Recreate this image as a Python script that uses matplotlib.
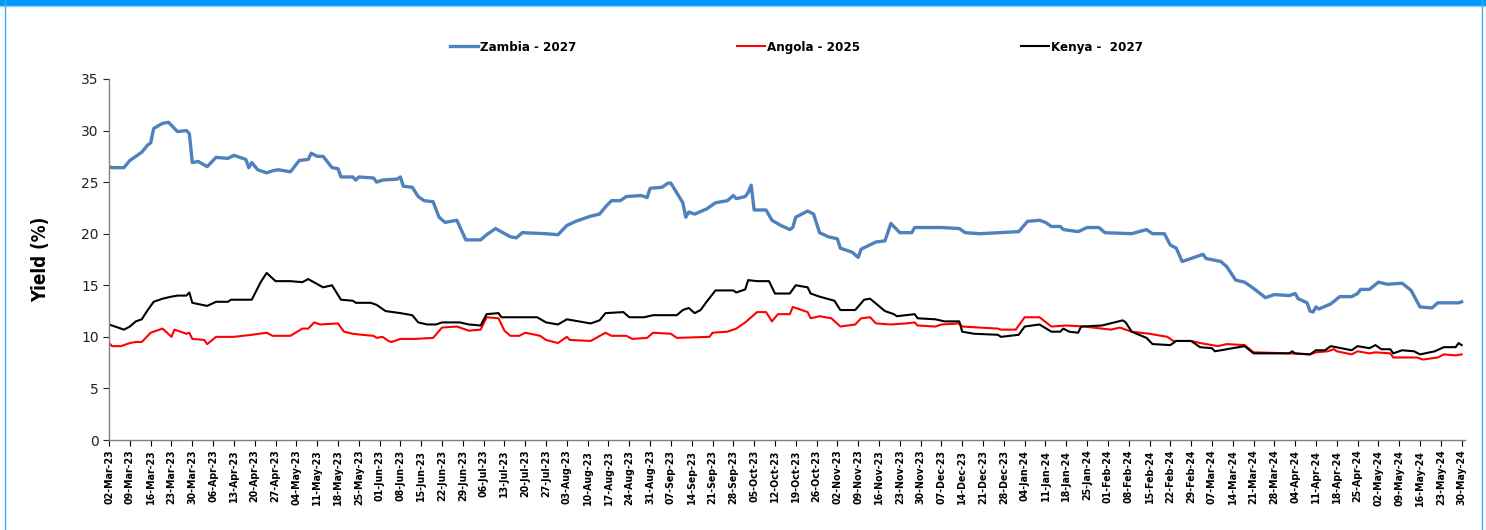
import numpy as np
import matplotlib
matplotlib.use("Agg")
import matplotlib.pyplot as plt
import matplotlib.dates as mdates
from matplotlib import font_manager
from matplotlib.patches import Rectangle
from matplotlib.lines import Line2D

start = np.datetime64("2023-03-02")

# day offsets from 02-Mar-23 and yields (%)
zambia_days = [0, 1, 5, 7, 11, 13, 14, 15, 18, 20, 23, 26, 27, 28, 30, 33, 36, 40, 42, 46,
               47, 48, 50, 53, 55, 57, 61, 64, 67, 68, 70, 72, 75, 77, 78, 82, 83, 84, 89, 90,
               92, 97, 98, 99, 102, 104, 106, 109, 111, 113, 117, 120, 125, 127, 130, 135, 137, 139, 147, 151,
               154, 157, 162, 165, 167, 169, 172, 174, 179, 181, 182, 186, 188, 189, 193, 194, 195, 197, 201, 204,
               208, 210, 211, 214, 215, 216, 217, 221, 223, 226, 229, 230, 231, 235, 237, 239, 242, 245, 246, 250,
               252, 253, 258, 261, 263, 266, 270, 271, 280, 286, 288, 293, 306, 309, 313, 315, 317, 320, 321, 326,
               329, 333, 335, 344, 349, 351, 355, 357, 359, 361, 368, 369, 374, 376, 379, 382, 385, 389, 392, 397,
               399, 400, 403, 404, 405, 406, 407, 411, 414, 418, 420, 421, 424, 427, 430, 435, 438, 441, 445, 447,
               454, 455]
zambia = [26.5, 26.4, 26.4, 27.1, 27.9, 28.6, 28.8, 30.2, 30.7, 30.8, 29.9, 30.0, 29.7, 26.9, 27.0, 26.5, 27.4, 27.3, 27.6, 27.2,
          26.4, 26.9, 26.2, 25.9, 26.1, 26.2, 26.0, 27.1, 27.2, 27.8, 27.5, 27.5, 26.4, 26.3, 25.5, 25.5, 25.2, 25.5, 25.4, 25.0,
          25.2, 25.3, 25.5, 24.6, 24.5, 23.6, 23.2, 23.1, 21.6, 21.1, 21.3, 19.4, 19.4, 19.9, 20.5, 19.7, 19.6, 20.1, 20.0, 19.9,
          20.8, 21.2, 21.7, 21.9, 22.6, 23.2, 23.2, 23.6, 23.7, 23.5, 24.4, 24.5, 24.9, 24.9, 23.0, 21.6, 22.1, 21.9, 22.4, 23.0,
          23.2, 23.7, 23.4, 23.6, 24.0, 24.7, 22.3, 22.3, 21.3, 20.8, 20.4, 20.6, 21.6, 22.2, 21.9, 20.1, 19.7, 19.5, 18.6, 18.2,
          17.7, 18.5, 19.2, 19.3, 21.0, 20.1, 20.1, 20.6, 20.6, 20.5, 20.1, 20.0, 20.2, 21.2, 21.3, 21.1, 20.7, 20.7, 20.4, 20.2,
          20.6, 20.6, 20.1, 20.0, 20.4, 20.0, 20.0, 18.9, 18.6, 17.3, 18.0, 17.6, 17.3, 16.8, 15.5, 15.3, 14.7, 13.8, 14.1, 14.0,
          14.2, 13.7, 13.3, 12.5, 12.4, 12.9, 12.7, 13.2, 13.9, 13.9, 14.2, 14.6, 14.6, 15.3, 15.1, 15.2, 14.5, 12.9, 12.8, 13.3,
          13.3, 13.4]

angola_days = [0, 1, 4, 7, 9, 11, 14, 18, 21, 22, 26, 27, 28, 32, 33, 36, 42, 48, 53, 55,
               61, 65, 67, 69, 71, 77, 79, 82, 85, 89, 90, 92, 94, 95, 98, 103, 109, 112, 117, 121,
               125, 127, 131, 133, 135, 138, 140, 145, 147, 151, 154, 155, 162, 167, 169, 174, 176, 181, 183, 189,
               191, 202, 203, 208, 211, 214, 218, 221, 223, 225, 229, 230, 235, 236, 239, 243, 246, 251, 253, 256,
               258, 263, 268, 271, 272, 278, 280, 286, 287, 299, 300, 305, 308, 313, 317, 322, 328, 334, 337, 340,
               344, 350, 356, 358, 364, 367, 373, 376, 382, 385, 397, 404, 406, 410, 412, 413, 418, 420, 424, 426,
               431, 432, 440, 442, 447, 449, 453, 455]
angola = [9.4, 9.1, 9.1, 9.4, 9.5, 9.5, 10.4, 10.8, 10.0, 10.7, 10.3, 10.4, 9.8, 9.7, 9.3, 10.0, 10.0, 10.2, 10.4, 10.1,
          10.1, 10.8, 10.8, 11.4, 11.2, 11.3, 10.5, 10.3, 10.2, 10.1, 9.9, 10.0, 9.6, 9.5, 9.8, 9.8, 9.9, 10.9, 11.0, 10.6,
          10.7, 11.9, 11.8, 10.6, 10.1, 10.1, 10.4, 10.1, 9.7, 9.4, 10.0, 9.7, 9.6, 10.4, 10.1, 10.1, 9.8, 9.9, 10.4, 10.3,
          9.9, 10.0, 10.4, 10.5, 10.8, 11.4, 12.4, 12.4, 11.5, 12.2, 12.2, 12.9, 12.4, 11.8, 12.0, 11.8, 11.0, 11.2, 11.8, 11.9,
          11.3, 11.2, 11.3, 11.4, 11.1, 11.0, 11.2, 11.3, 11.0, 10.8, 10.7, 10.7, 11.9, 11.9, 11.0, 11.1, 11.0, 10.8, 10.7, 10.9,
          10.5, 10.3, 10.0, 9.6, 9.6, 9.4, 9.1, 9.3, 9.2, 8.5, 8.4, 8.3, 8.5, 8.6, 8.8, 8.6, 8.3, 8.6, 8.4, 8.5,
          8.4, 8.0, 8.0, 7.8, 8.0, 8.3, 8.2, 8.3]

kenya_days = [0, 5, 7, 9, 11, 13, 15, 18, 21, 23, 26, 27, 28, 33, 36, 40, 41, 48, 51, 53,
              56, 61, 65, 67, 72, 75, 78, 82, 83, 88, 90, 93, 98, 102, 104, 107, 110, 112, 118, 121,
              125, 127, 131, 132, 144, 147, 151, 154, 158, 162, 165, 167, 173, 175, 180, 183, 191, 193, 195, 197,
              199, 201, 204, 210, 211, 214, 215, 218, 222, 224, 229, 231, 235, 236, 239, 244, 246, 251, 254, 256,
              261, 264, 265, 271, 272, 278, 281, 286, 287, 291, 299, 300, 306, 308, 313, 317, 320, 321, 323, 326,
              327, 334, 341, 342, 344, 349, 351, 357, 359, 364, 367, 371, 372, 376, 382, 385, 397, 398, 399, 404,
              406, 409, 411, 418, 420, 424, 426, 428, 431, 432, 435, 439, 441, 446, 449, 453, 454, 455]
kenya = [11.2, 10.7, 11.0, 11.5, 11.7, 12.6, 13.4, 13.7, 13.9, 14.0, 14.0, 14.3, 13.3, 13.0, 13.4, 13.4, 13.6, 13.6, 15.3, 16.2,
         15.4, 15.4, 15.3, 15.6, 14.8, 15.0, 13.6, 13.5, 13.3, 13.3, 13.1, 12.5, 12.3, 12.1, 11.4, 11.2, 11.2, 11.4, 11.4, 11.2,
         11.1, 12.2, 12.3, 11.9, 11.9, 11.4, 11.2, 11.7, 11.5, 11.3, 11.6, 12.3, 12.4, 11.9, 11.9, 12.1, 12.1, 12.6, 12.8, 12.3,
         12.6, 13.4, 14.5, 14.5, 14.3, 14.6, 15.5, 15.4, 15.4, 14.2, 14.2, 15.0, 14.8, 14.2, 13.9, 13.5, 12.6, 12.6, 13.6, 13.7,
         12.5, 12.2, 12.0, 12.2, 11.8, 11.7, 11.5, 11.5, 10.5, 10.3, 10.2, 10.0, 10.2, 11.0, 11.2, 10.5, 10.5, 10.8, 10.5, 10.4,
         11.0, 11.1, 11.6, 11.4, 10.5, 9.9, 9.3, 9.2, 9.6, 9.6, 9.0, 8.9, 8.6, 8.8, 9.1, 8.4, 8.4, 8.6, 8.4, 8.3,
         8.7, 8.7, 9.1, 8.7, 9.1, 8.9, 9.2, 8.8, 8.8, 8.4, 8.7, 8.6, 8.3, 8.6, 9.0, 9.0, 9.4, 9.2]

series = [("Zambia - 2027", zambia_days, zambia, "#4F81BD", 2.4),
          ("Angola - 2025", angola_days, angola, "#FF0000", 1.5),
          ("Kenya -  2027", kenya_days, kenya, "#000000", 1.5)]

# condensed bold font if the system has one, else plain DejaVu Sans
names = {f.name for f in font_manager.fontManager.ttflist}
if "Liberation Sans Narrow" in names:
    narrow = {"family": "Liberation Sans Narrow", "stretch": "normal"}
else:
    narrow = {"family": "DejaVu Sans", "stretch": "condensed"}

fig = plt.figure(figsize=(14.86, 5.30), dpi=100)
ax = fig.add_axes([0.0734, 0.1698, 0.9122, 0.6812])

for name, days, vals, col, lw in series:
    dates = start + np.array(days).astype("timedelta64[D]")
    ax.plot(dates.astype("datetime64[ms]").astype(object), vals, color=col, lw=lw, label=name)

end = np.datetime64("2024-05-30")
ticks = np.arange(start, end + np.timedelta64(1, "D"), np.timedelta64(7, "D"))
ax.set_xticks(ticks.astype("datetime64[ms]").astype(object))
ax.xaxis.set_major_formatter(mdates.DateFormatter("%d-%b-%y"))
ax.set_xlim(start.astype("datetime64[ms]").astype(object),
            (end + np.timedelta64(1, "D")).astype("datetime64[ms]").astype(object))
ax.set_ylim(0, 35)
ax.set_yticks(range(0, 36, 5))

for lab in ax.get_xticklabels():
    lab.set_rotation(90)
    lab.set_fontweight("bold")
    lab.set_fontsize(7.6)
    lab.set_family(narrow["family"])
    lab.set_fontstretch(narrow["stretch"])
ax.tick_params(axis="y", labelsize=10, colors="#222222", length=4, width=0.8)
ax.tick_params(axis="x", length=4, width=0.8, pad=3)
for s in ["top", "right"]:
    ax.spines[s].set_visible(False)
for s in ["left", "bottom"]:
    ax.spines[s].set_color("#808080")
    ax.spines[s].set_linewidth(1.0)

ax.set_ylabel("Yield (%)", fontsize=13.5, fontweight="bold", family=narrow["family"],
              fontstretch=narrow["stretch"], labelpad=22)

handles = [Line2D([], [], color=c, lw=lw) for _, _, _, c, lw in series]
leg = fig.legend(handles, [s[0] for s in series], loc="center", ncol=3,
                 bbox_to_anchor=(0.536, 0.911), frameon=False, handlelength=2.1,
                 handletextpad=0.15, columnspacing=12.2,
                 prop={"family": narrow["family"], "stretch": narrow["stretch"],
                       "weight": "bold", "size": 9.5})

# page frame
fig.patches.append(Rectangle((0, 1 - 5 / 530), 1, 5 / 530, transform=fig.transFigure,
                             color="#0099FF", zorder=0))
fig.add_artist(Line2D([0, 1], [1 - 6 / 530] * 2, color="#8FD3F5", lw=1))
fig.add_artist(Line2D([5 / 1486] * 2, [0, 1], color="#3FB2EE", lw=1))
fig.add_artist(Line2D([1482 / 1486] * 2, [0, 1], color="#3FB2EE", lw=1))

fig.savefig("out.png", dpi=100)
